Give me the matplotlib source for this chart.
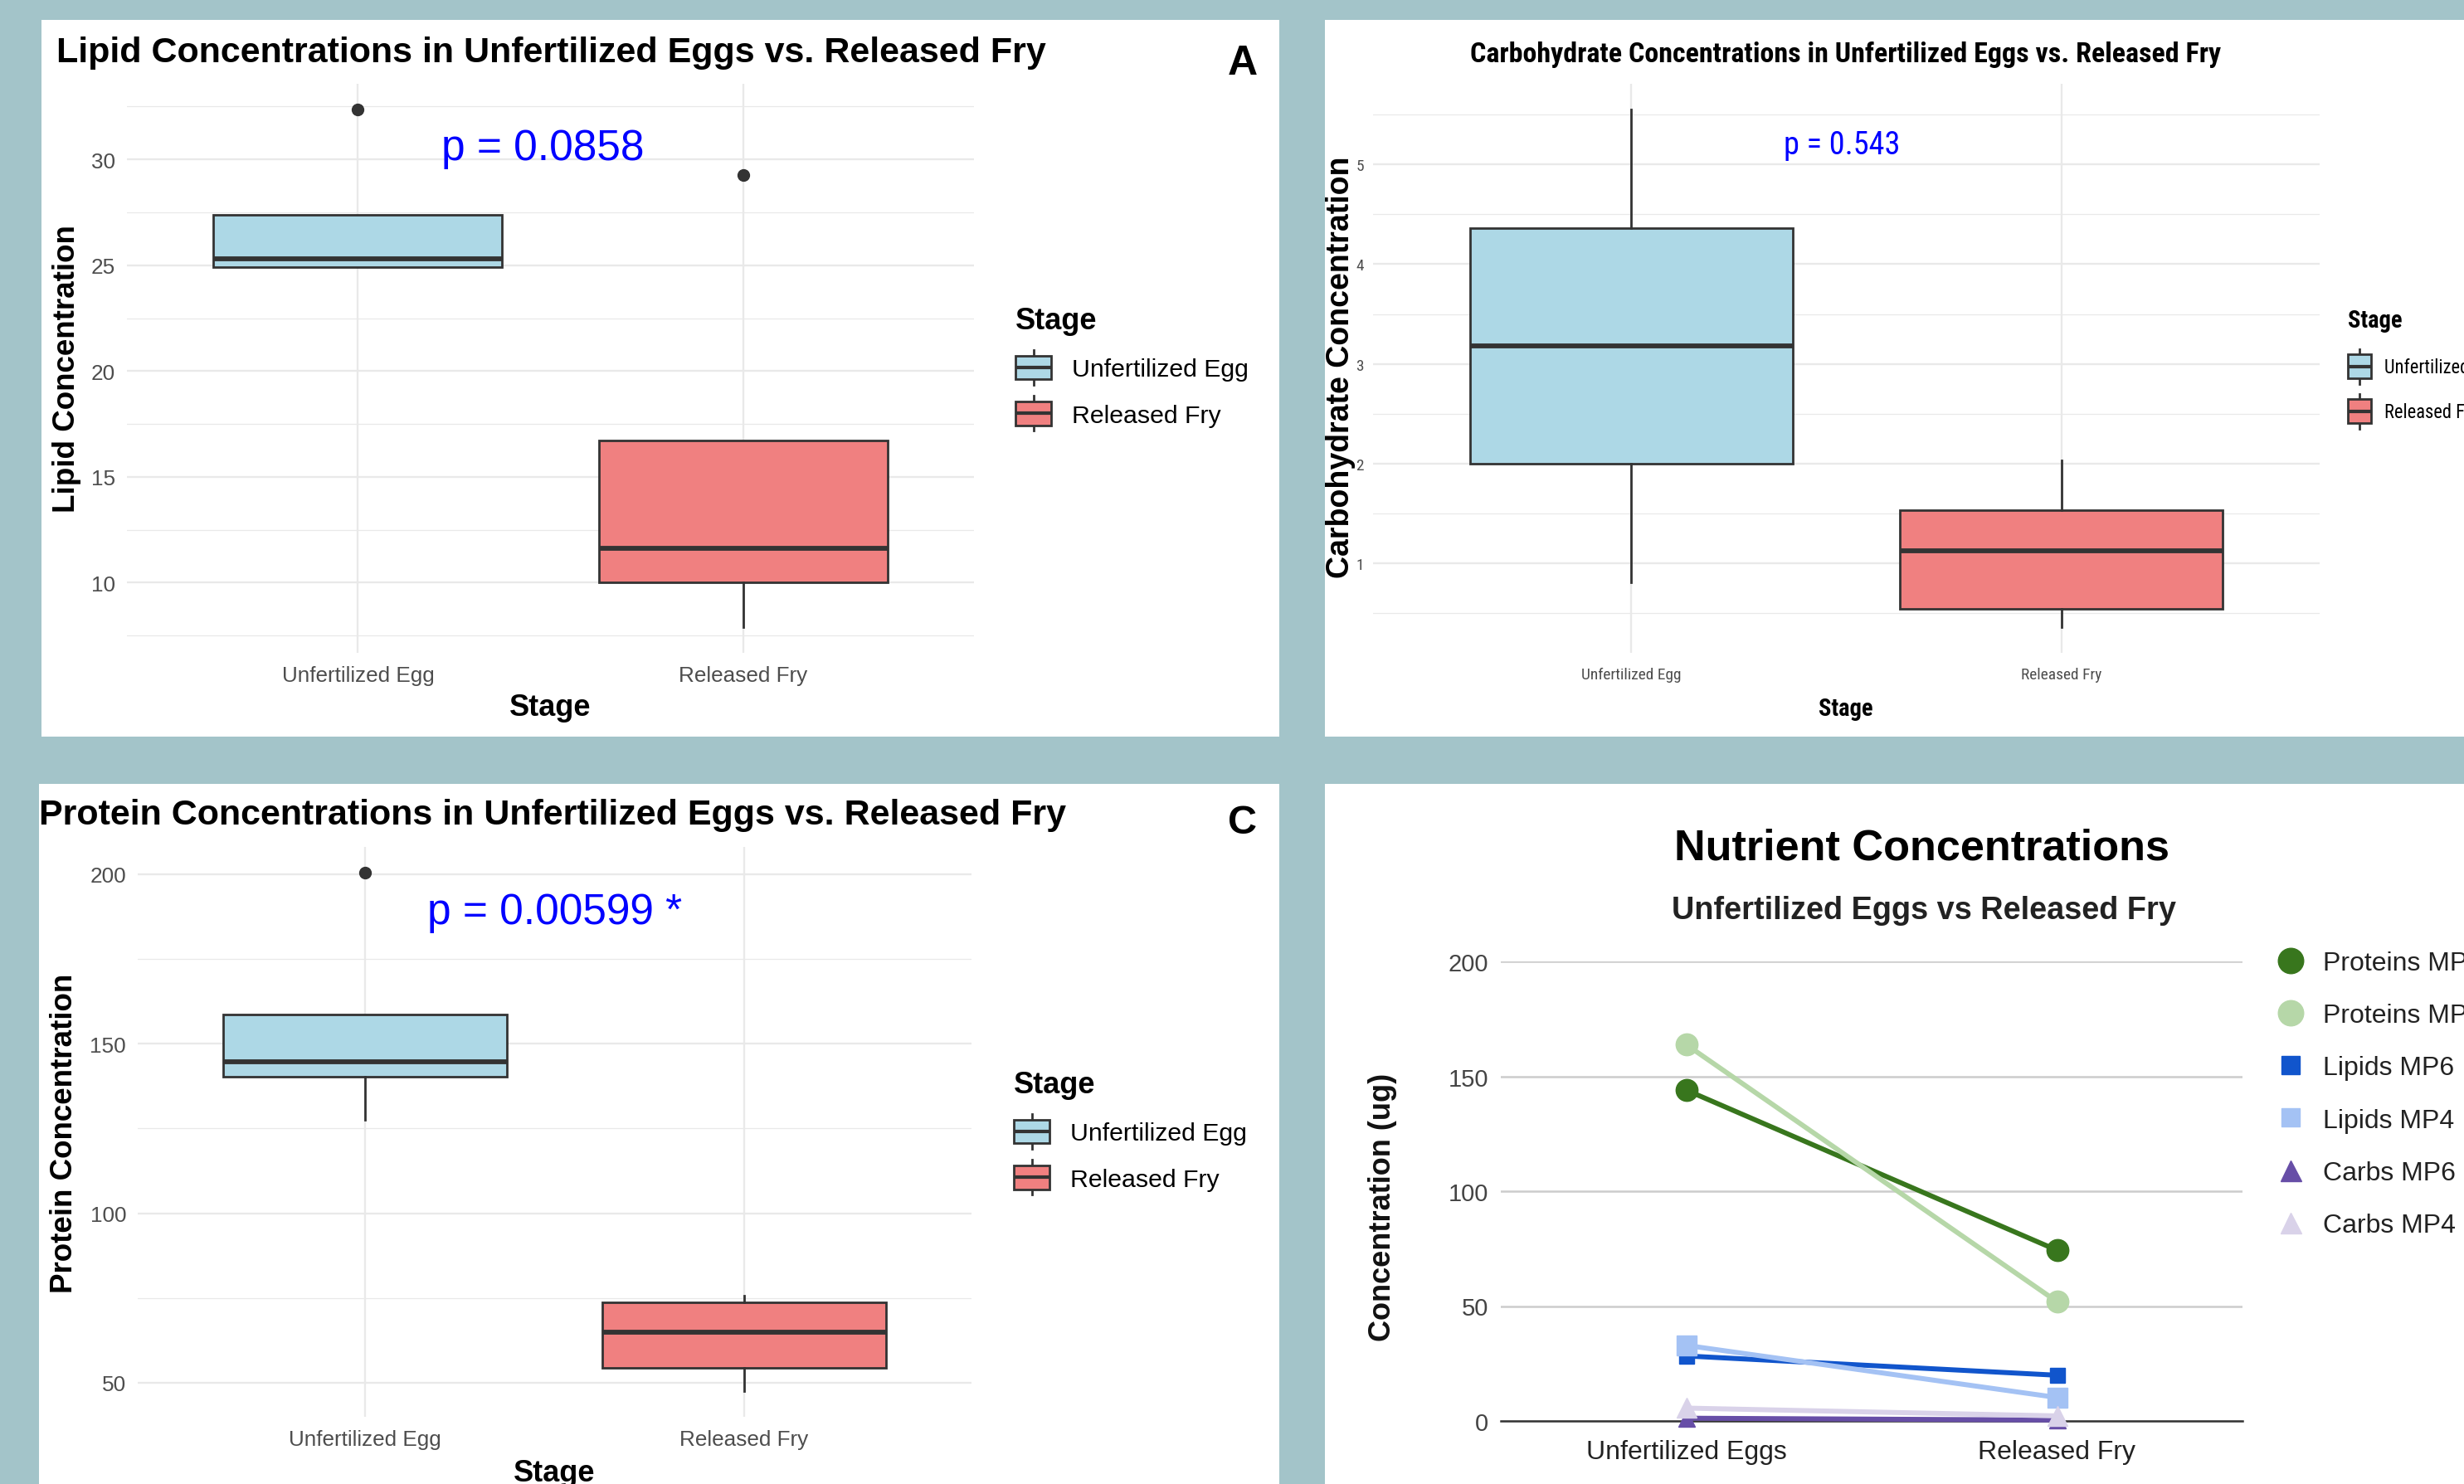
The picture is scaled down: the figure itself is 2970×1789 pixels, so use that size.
import matplotlib
matplotlib.use("Agg")
import matplotlib.pyplot as plt
import numpy as np
from matplotlib.patches import Rectangle, Patch
from matplotlib.lines import Line2D
from matplotlib.legend_handler import HandlerBase
import matplotlib.font_manager as fm

# ---------------- data ----------------
stages = ["Unfertilized Egg", "Released Fry"]
stage_fills = ["#add8e6", "#f08080"]

lipid_q1 = [24.91, 10.02]
lipid_median = [25.31, 11.63]
lipid_q3 = [27.37, 16.73]
lipid_whisker_low = [24.91, 7.91]
lipid_whisker_high = [27.37, 16.73]
lipid_outliers = [[32.35], [29.28]]
lipid_ticks = [10, 15, 20, 25, 30]
lipid_p = "p = 0.0858"

carb_q1 = [2.00, 0.545]
carb_median = [3.18, 1.12]
carb_q3 = [4.36, 1.535]
carb_whisker_low = [0.81, 0.36]
carb_whisker_high = [5.55, 2.03]
carb_outliers = [[], []]
carb_ticks = [1, 2, 3, 4, 5]
carb_p = "p = 0.543"

protein_q1 = [140.2, 54.5]
protein_median = [144.6, 65.0]
protein_q3 = [158.7, 73.8]
protein_whisker_low = [127.6, 47.6]
protein_whisker_high = [158.7, 75.8]
protein_outliers = [[200.4], []]
protein_ticks = [50, 100, 150, 200]
protein_p = "p = 0.00599 *"

nutrient_groups = ["Unfertilized Eggs", "Released Fry"]
nutrient_series = ["Proteins MP6", "Proteins MP4", "Lipids MP6",
                   "Lipids MP4", "Carbs MP6", "Carbs MP4"]
proteins_mp6 = [144.0, 74.3]
proteins_mp4 = [163.8, 51.9]
lipids_mp6 = [28.3, 19.9]
lipids_mp4 = [32.9, 10.2]
carbs_mp6 = [1.2, 0.4]
carbs_mp4 = [5.6, 2.2]
nutrient_ticks = [0, 50, 100, 150, 200]

# ---------------- setup ----------------
plt.rcParams["font.family"] = ["Liberation Sans", "DejaVu Sans"]
W, H = 2970, 1790
BG = "#a3c4c9"
GRID = "#e9e9e9"
EDGE = "#333333"
fig = plt.figure(figsize=(W / 100, H / 100), dpi=100, facecolor=BG)
renderer = fig.canvas.get_renderer()


def px_rect(x0, y0, x1, y1):
    return [x0 / W, 1 - y1 / H, (x1 - x0) / W, (y1 - y0) / H]


def fpt(x, y):
    return (x / W, 1 - y / H)


for (x0, y0, x1, y1) in [(50, 25, 1542, 889), (1597, 25, 2970, 889),
                         (47, 946, 1542, 1790), (1597, 946, 2970, 1790)]:
    fig.add_artist(Rectangle(fpt(x0, y1), (x1 - x0) / W, (y1 - y0) / H,
                             transform=fig.transFigure, facecolor="white",
                             edgecolor="none", zorder=-5))


# ---------- narrow font lookup (panel B is horizontally squeezed) ----------
def find_narrow(bold):
    best = None
    fams = ["liberation", "arimo", "roboto", "noto sans", "open sans", "dejavu", "lato"]
    for f in fm.fontManager.ttflist:
        s = (f.name + " " + f.fname).lower().replace("-", " ")
        st = str(f.stretch)
        if not ("narrow" in s or "condensed" in s or st in
                ("condensed", "semi-condensed", "extra-condensed")):
            continue
        if f.style != "normal":
            continue
        fam_rank = None
        for i, k in enumerate(fams):
            if k in s:
                fam_rank = i
                break
        if fam_rank is None or "mono" in s or "cjk" in s:
            continue
        w = f.weight
        if isinstance(w, str):
            w = fm.weight_dict.get(w, 400)
        if bold and not (600 <= w <= 750):
            continue
        if not bold and not (380 <= w <= 450):
            continue
        if "extra" in s or "ultra" in s or "extra" in st:
            srank = 2
        elif "semi" in s or "semi" in st:
            srank = 1
        else:
            srank = 0
        r = (fam_rank, srank)
        if best is None or r < best[0]:
            best = (r, f.fname)
    return best[1] if best else None


NB, NR = find_narrow(True), find_narrow(False)


def fpn(bold, size):
    p = NB if bold else NR
    if p:
        return fm.FontProperties(fname=p, size=size)
    return fm.FontProperties(family="Liberation Sans",
                             weight="bold" if bold else "normal", size=size)


def text_w(s, fp):
    t = fig.text(0, 0, s, fontproperties=fp)
    w = t.get_window_extent(renderer=renderer).width
    t.remove()
    return w


SQ = 0.66
titleB = "Carbohydrate Concentrations in Unfertilized Eggs vs. Released Fry"
s_bold = max(SQ * text_w(titleB, fm.FontProperties(family="Liberation Sans", weight="bold", size=31))
             / text_w(titleB, fpn(True, 31)), 0.74)
s_reg = max(SQ * text_w(stages[0], fm.FontProperties(family="Liberation Sans", size=18.8))
            / text_w(stages[0], fpn(False, 18.8)), 0.74)


class BoxKey(HandlerBase):
    """ggplot-style boxplot legend key; glyph height given in pixels."""

    def __init__(self, glyph_px=42, lw=2.0, **kw):
        super().__init__(**kw)
        self.gh = glyph_px * 72 / 100
        self.lw = lw

    def create_artists(self, legend, orig, xd, yd, w, h, fs, trans):
        x0 = -xd
        c = -yd + h / 2
        g = self.gh
        whisk = Line2D([x0 + w / 2] * 2, [c - g / 2, c + g / 2], color=EDGE,
                       lw=self.lw, transform=trans)
        box = Rectangle((x0, c - 0.34 * g), w, 0.68 * g, facecolor=orig.get_facecolor(),
                        edgecolor=EDGE, lw=self.lw, transform=trans)
        med = Line2D([x0, x0 + w], [c, c], color=EDGE, lw=self.lw * 1.5,
                     transform=trans, solid_capstyle="butt")
        return [whisk, box, med]


def handle_h(total_px, fs_px):
    # legend handle box total height = fs*hh - 0.35*fs*(hh-0.7)
    return (total_px / fs_px - 0.245) / 0.65


def gg_panel(rect, q1, med, q3, wl, wh, outl, ticks):
    ax = fig.add_axes(px_rect(*rect))
    ax.set_facecolor("white")
    allv = list(wl) + list(wh) + [v for o in outl for v in o]
    lo, hi = min(allv), max(allv)
    pad = 0.05 * (hi - lo)
    ax.set_xlim(0.4, 2.6)
    ax.set_ylim(lo - pad, hi + pad)
    step = ticks[1] - ticks[0]
    minor = [t for t in np.arange(ticks[0] - 3 * step / 2, hi + pad, step)
             if lo - pad <= t <= hi + pad]
    ax.set_yticks(minor, minor=True)
    for s in ax.spines.values():
        s.set_visible(False)
    ax.set_axisbelow(True)
    ax.grid(True, which="major", color=GRID, lw=1.7)
    ax.grid(True, which="minor", axis="y", color=GRID, lw=0.9)
    ax.tick_params(which="both", length=0)
    stats = [dict(med=med[i], q1=q1[i], q3=q3[i], whislo=wl[i], whishi=wh[i],
                  fliers=outl[i]) for i in range(len(q1))]
    bp = ax.bxp(stats, positions=[1, 2], widths=0.75, patch_artist=True, showcaps=False,
                boxprops=dict(edgecolor=EDGE, linewidth=2.0),
                medianprops=dict(color=EDGE, linewidth=4.2, solid_capstyle="butt"),
                whiskerprops=dict(color=EDGE, linewidth=2.0),
                flierprops=dict(marker="o", markerfacecolor=EDGE, markeredgecolor=EDGE,
                                markersize=10),
                manage_ticks=False)
    for patch, c in zip(bp["boxes"], stage_fills):
        patch.set_facecolor(c)
    return ax


def gg_legend(ax, left, top, tfp, lfp, hl, ht, key_h=29, sep=24.5):
    handles = [Patch(facecolor=c) for c in stage_fills]
    lfs = lfp.get_size_in_points() * 100 / 72
    leg = ax.legend(handles, stages, title="Stage", handler_map={Patch: BoxKey(42)},
                    loc="upper left", bbox_to_anchor=fpt(left, top),
                    bbox_transform=fig.transFigure, frameon=False, prop=lfp,
                    title_fontproperties=tfp, alignment="left",
                    handlelength=hl / lfs, handleheight=handle_h(key_h, lfs),
                    handletextpad=ht / lfs, labelspacing=sep / lfs,
                    borderpad=0, borderaxespad=0)
    return leg


# ---------------- Panel A ----------------
axA = gg_panel((153, 102, 1174, 788), lipid_q1, lipid_median, lipid_q3,
               lipid_whisker_low, lipid_whisker_high, lipid_outliers, lipid_ticks)
axA.set_yticks(lipid_ticks)
axA.set_xticks([1, 2], stages)
axA.tick_params(axis="y", labelsize=18.8, labelcolor="#4d4d4d", pad=10)
axA.tick_params(axis="x", labelsize=18.8, labelcolor="#4d4d4d", pad=11)
axA.set_ylabel("Lipid Concentration", fontsize=26.5, fontweight="bold")
axA.yaxis.set_label_coords(*fpt(81, 445), transform=fig.transFigure)
axA.yaxis.label.set_va("center")
axA.set_xlabel("Stage", fontsize=26, fontweight="bold")
axA.xaxis.set_label_coords(*fpt(663, 863), transform=fig.transFigure)
axA.xaxis.label.set_va("baseline")
axA.text(1.48, 30.0, lipid_p, color="#0000ff", fontsize=37, ha="center", va="baseline")
fig.text(*fpt(68, 75), "Lipid Concentrations in Unfertilized Eggs vs. Released Fry",
         fontsize=31, fontweight="bold", ha="left", va="baseline")
fig.text(*fpt(1498, 90), "A", fontsize=36, fontweight="bold", ha="center", va="baseline")
gg_legend(axA, 1224, 370,
          fm.FontProperties(family="Liberation Sans", weight="bold", size=26),
          fm.FontProperties(family="Liberation Sans", size=21.8), 43, 25)

# ---------------- Panel B ----------------
axB = gg_panel((1655, 102, 2796, 788), carb_q1, carb_median, carb_q3,
               carb_whisker_low, carb_whisker_high, carb_outliers, carb_ticks)
axB.set_yticks(carb_ticks, [str(t) for t in carb_ticks],
               fontproperties=fpn(False, 18.8 * s_reg), color="#4d4d4d")
axB.set_xticks([1, 2], stages, fontproperties=fpn(False, 18.8 * s_reg), color="#4d4d4d")
axB.tick_params(axis="y", pad=8)
axB.tick_params(axis="x", pad=12.5)
axB.set_ylabel("Carbohydrate Concentration", fontsize=27, fontweight="bold")
axB.yaxis.set_label_coords(*fpt(1616, 443), transform=fig.transFigure)
axB.yaxis.label.set_va("center")
axB.set_xlabel("Stage", fontproperties=fpn(True, 26 * s_bold))
axB.xaxis.set_label_coords(*fpt(2225, 863), transform=fig.transFigure)
axB.xaxis.label.set_va("baseline")
axB.text(1.49, 5.11, carb_p, color="#0000ff", fontproperties=fpn(False, 37 * s_reg),
         ha="center", va="baseline")
fig.text(*fpt(2225, 75), titleB, fontproperties=fpn(True, 31 * s_bold),
         ha="center", va="baseline")
gg_legend(axB, 2830, 373, fpn(True, 26 * s_bold), fpn(False, 21.8 * s_reg), 28, 16,
          key_h=23, sep=30)

# ---------------- Panel C ----------------
axC = gg_panel((166, 1022, 1171, 1709), protein_q1, protein_median, protein_q3,
               protein_whisker_low, protein_whisker_high, protein_outliers, protein_ticks)
axC.set_yticks(protein_ticks)
axC.set_xticks([1, 2], stages)
axC.tick_params(axis="y", labelsize=18.8, labelcolor="#4d4d4d", pad=10)
axC.tick_params(axis="x", labelsize=18.8, labelcolor="#4d4d4d", pad=11)
axC.set_ylabel("Protein Concentration", fontsize=26.5, fontweight="bold")
axC.yaxis.set_label_coords(*fpt(78, 1366), transform=fig.transFigure)
axC.yaxis.label.set_va("center")
axC.set_xlabel("Stage", fontsize=26, fontweight="bold")
axC.xaxis.set_label_coords(*fpt(668, 1786), transform=fig.transFigure)
axC.xaxis.label.set_va("baseline")
axC.text(1.5, 185.6, protein_p, color="#0000ff", fontsize=37, ha="center", va="baseline")
fig.text(*fpt(47, 994), "Protein Concentrations in Unfertilized Eggs vs. Released Fry",
         fontsize=31, fontweight="bold", ha="left", va="baseline")
fig.text(*fpt(1497, 1005), "C", fontsize=35, fontweight="bold", ha="center", va="baseline")
gg_legend(axC, 1222, 1291,
          fm.FontProperties(family="Liberation Sans", weight="bold", size=26),
          fm.FontProperties(family="Liberation Sans", size=21.8), 43, 25)

# ---------------- Panel D ----------------
axD = fig.add_axes(px_rect(1809, 1160, 2703, 1714))
axD.set_facecolor("white")
d_colors = ["#38761d", "#b6d7a8", "#1155cc", "#a4c2f4", "#674ea7", "#d9d2e9"]
d_markers = ["o", "o", "s", "s", "^", "^"]
d_ms = [19, 19, 13, 17, 15, 17]
d_leg_ms = [22, 22, 16.5, 16.5, 18, 18]
d_values = [proteins_mp6, proteins_mp4, lipids_mp6, lipids_mp4, carbs_mp6, carbs_mp4]
for name, vals, c, m, ms in zip(nutrient_series, d_values, d_colors, d_markers, d_ms):
    axD.plot(nutrient_groups, vals, color=c, marker=m, ms=ms, lw=4.3, mec=c,
             clip_on=False, zorder=3, label=name)
axD.set_xlim(-0.5, 1.5)
axD.set_ylim(0, 200)
axD.set_yticks(nutrient_ticks)
axD.set_axisbelow(True)
axD.grid(True, axis="y", color="#cccccc", lw=1.8)
for k, s in axD.spines.items():
    s.set_visible(k == "bottom")
axD.spines["bottom"].set_color("#333333")
axD.spines["bottom"].set_linewidth(1.8)
axD.tick_params(length=0)
axD.tick_params(axis="y", labelsize=21, labelcolor="#444444", pad=10.5)
axD.tick_params(axis="x", labelsize=23, labelcolor="#222222", pad=16)
axD.set_ylabel("Concentration (ug)", fontsize=26, fontweight="bold", color="#111111")
axD.yaxis.set_label_coords(*fpt(1667, 1455), transform=fig.transFigure)
axD.yaxis.label.set_va("center")
fig.text(*fpt(2317, 1037), "Nutrient Concentrations", fontsize=37.6, fontweight="bold",
         ha="center", va="baseline", color="#000000")
fig.text(*fpt(2319, 1108), "Unfertilized Eggs vs Released Fry", fontsize=27.3,
         fontweight="bold", ha="center", va="baseline", color="#222222")
d_handles = [Line2D([], [], ls="none", marker=m, ms=ms, color=c, mec=c)
             for c, m, ms in zip(d_colors, d_markers, d_leg_ms)]
lfs = 23 * 100 / 72
axD.legend(d_handles, nutrient_series, loc="upper left", bbox_to_anchor=fpt(2744, 1147),
           bbox_transform=fig.transFigure, frameon=False, fontsize=23,
           labelcolor="#222222", numpoints=1, handlelength=34 / lfs,
           handletextpad=22 / lfs, labelspacing=(63.2 - 30) / lfs,
           borderpad=0, borderaxespad=0)

fig.savefig("out.png", dpi=100, facecolor=BG)
